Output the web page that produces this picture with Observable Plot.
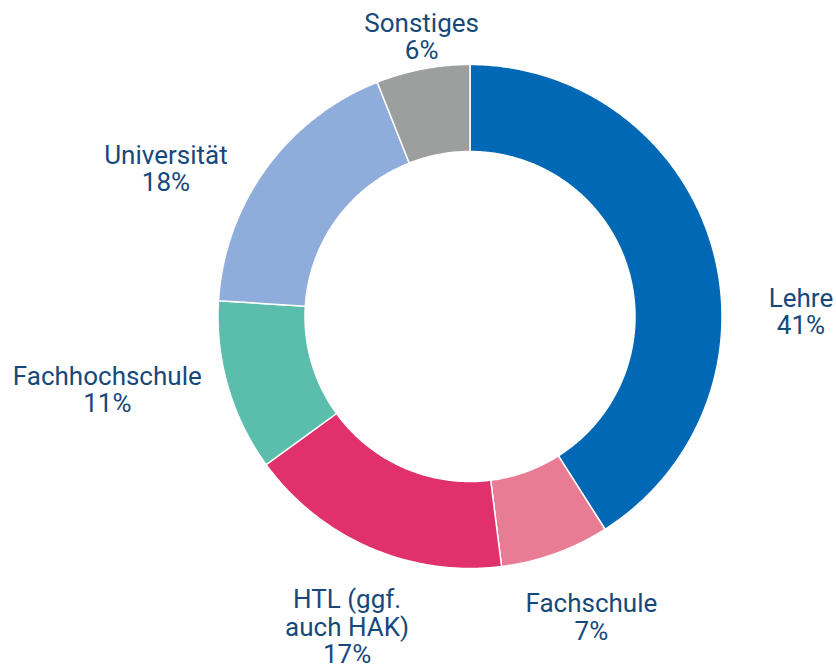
<!DOCTYPE html>
<html>
<head>
<meta charset="utf-8">
<script src="https://cdn.jsdelivr.net/npm/d3@7"></script>
<script src="https://cdn.jsdelivr.net/npm/@observablehq/plot@0.6"></script>
<style>
  html, body { margin: 0; padding: 0; background: #ffffff; }
  #chart { width: 836px; height: 670px; }
</style>
</head>
<body>
<div id="chart"></div>
<script>
// ---- data ----
const categories = ["Lehre", "Fachschule", "HTL (ggf.\nauch HAK)", "Fachhochschule", "Universität", "Sonstiges"];
const shares = [41, 7, 17, 11, 18, 6];
const colors = ["#0068b4", "#e97c95", "#e0316d", "#5bbdab", "#8fadda", "#9d9e9e"];

// ---- layout ----
const outerR = 252, innerR = 165;
const labelShift = [15.4, -2.2, -1.8, 4.8, -10.1, 1.0];   // degrees relative to slice mid-angle
const labelRadius = [331, 324, 334, 370, 338, 284];

const total = d3.sum(shares);
let acc = 0;
const slicePoints = [];
const labels = [];
shares.forEach((v, i) => {
  const a0 = acc / total * 360, a1 = (acc + v) / total * 360;
  acc += v;
  const steps = Math.max(2, Math.ceil((a1 - a0) / 0.5));
  const pts = [];
  for (let k = 0; k <= steps; k++) { const a = a0 + (a1 - a0) * k / steps; pts.push([a, outerR]); }
  for (let k = steps; k >= 0; k--) { const a = a0 + (a1 - a0) * k / steps; pts.push([a, innerR]); }
  pts.push([a0, outerR]);
  for (const [a, r] of pts) {
    const t = a * Math.PI / 180;
    slicePoints.push({cat: categories[i], x: r * Math.sin(t), y: r * Math.cos(t)});
  }
  const m = ((a0 + a1) / 2 + labelShift[i]) * Math.PI / 180;
  labels.push({cat: categories[i], text: categories[i] + "\n" + shares[i] + "%",
               x: labelRadius[i] * Math.sin(m), y: labelRadius[i] * Math.cos(m)});
});

const chart = Plot.plot({
  width: 836,
  height: 670,
  margin: 0,
  x: {domain: [-469.5, 366.5], axis: null},
  y: {domain: [-354, 316], axis: null},
  color: {domain: categories, range: colors},
  style: {background: "#ffffff"},
  marks: [
    Plot.line(slicePoints, {x: "x", y: "y", z: "cat", fill: "cat", stroke: "#ffffff", strokeWidth: 1.5, curve: "linear"}),
    Plot.text(labels, {x: "x", y: "y", text: "text", fontSize: 26, lineHeight: 1.06,
      fill: "#16497a", fontFamily: "Roboto, 'Noto Sans', sans-serif", textAnchor: "middle", lineAnchor: "middle"})
  ]
});
document.getElementById("chart").appendChild(chart);
</script>
</body>
</html>
